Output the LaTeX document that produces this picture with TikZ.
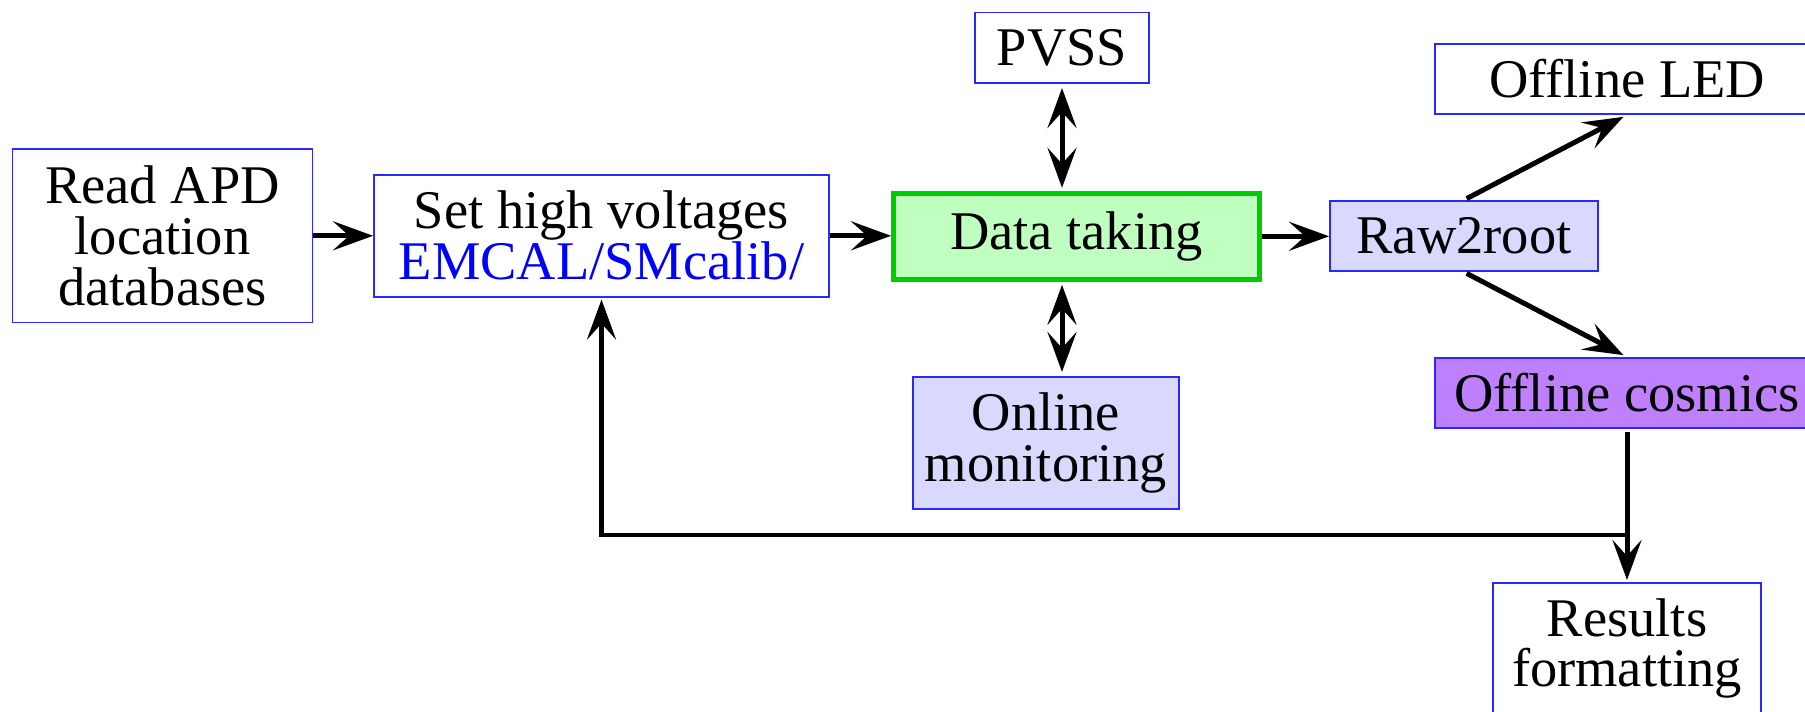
\documentclass[tikz,border=0pt]{standalone}
\usepackage{fontspec}
\setmainfont{Liberation Serif}
\usetikzlibrary{arrows.meta}
\definecolor{boxblue}{RGB}{40,40,255}
\definecolor{lav}{RGB}{217,217,255}
\definecolor{purp}{RGB}{191,128,255}
\definecolor{lgreen}{RGB}{191,255,191}
\definecolor{dgreen}{RGB}{0,204,0}
\begin{document}
\begin{tikzpicture}[x=0.02cm,y=-0.02cm,
  every node/.style={font=\fontsize{31}{29}\selectfont},
  bx/.style={draw=boxblue,line width=0.03cm,align=center,inner sep=0pt},
  arr/.style={line width=0.1cm,-{Stealth[length=0.8cm,width=0.58cm,inset=0.32cm]}},
  dbl/.style={line width=0.1cm,{Stealth[length=0.8cm,width=0.58cm,inset=0.32cm]}-{Stealth[length=0.8cm,width=0.58cm,inset=0.32cm]}}]
\useasboundingbox (0,0) rectangle (1805,712);
\clip (0,0) rectangle (1805,712);
\node[bx,minimum width=6.0cm,minimum height=3.47cm] (read) at (162.5,235.8) {Read APD\\location\\databases};
\node[bx,minimum width=9.11cm,minimum height=2.44cm] (sethv) at (601.5,235.8) {Set high voltages\\\textcolor{blue}{EMCAL/SMcalib/}};
\node[draw=dgreen,fill=lgreen,line width=0.1cm,inner sep=0pt,minimum width=7.32cm,minimum height=1.72cm] (data) at (1076.5,236.3) {Data taking};
\node[bx,minimum width=3.49cm,minimum height=1.41cm] (pvss) at (1062,48) {PVSS};
\node[bx,fill=lav,minimum width=5.33cm,minimum height=2.65cm] (online) at (1046,443) {Online\\monitoring};
\node[bx,fill=lav,minimum width=5.37cm,minimum height=1.41cm] (raw) at (1464,236) {Raw2root};
\node[bx,minimum width=7.69cm,minimum height=1.41cm] (led) at (1627,79) {Offline LED};
\node[bx,fill=purp,minimum width=7.69cm,minimum height=1.41cm] (cosm) at (1627,393) {Offline cosmics};
\node[bx,minimum width=5.37cm,minimum height=2.63cm] (res) at (1627,648.5) {Results\\formatting};
\coordinate (fb) at (0,535);
\draw[arr] (read) -- (sethv);
\draw[arr] (sethv.east) -- (sethv.east -| data.west);
\draw[arr] (data.east) -- (data.east -| raw.west);
\draw[dbl,shorten <=0.08cm,shorten >=0.06cm] (pvss.south) -- (pvss.south |- data.north);
\draw[dbl,shorten <=0.06cm,shorten >=0.08cm] (data.south -| pvss.south) -- (online.north -| pvss.south);
\draw[arr,shorten <=0.06cm,shorten >=0.08cm] (raw.north) -- (led.south);
\draw[arr,shorten <=0.06cm,shorten >=0.08cm] (raw.south) -- (cosm.north);
\draw[arr,shorten <=0.06cm,shorten >=0.04cm] (cosm.south) -- (res.north);
\draw[arr,shorten >=0.04cm] (cosm.south |- fb) -- (sethv.south |- fb) -- (sethv.south);
\end{tikzpicture}
\end{document}
